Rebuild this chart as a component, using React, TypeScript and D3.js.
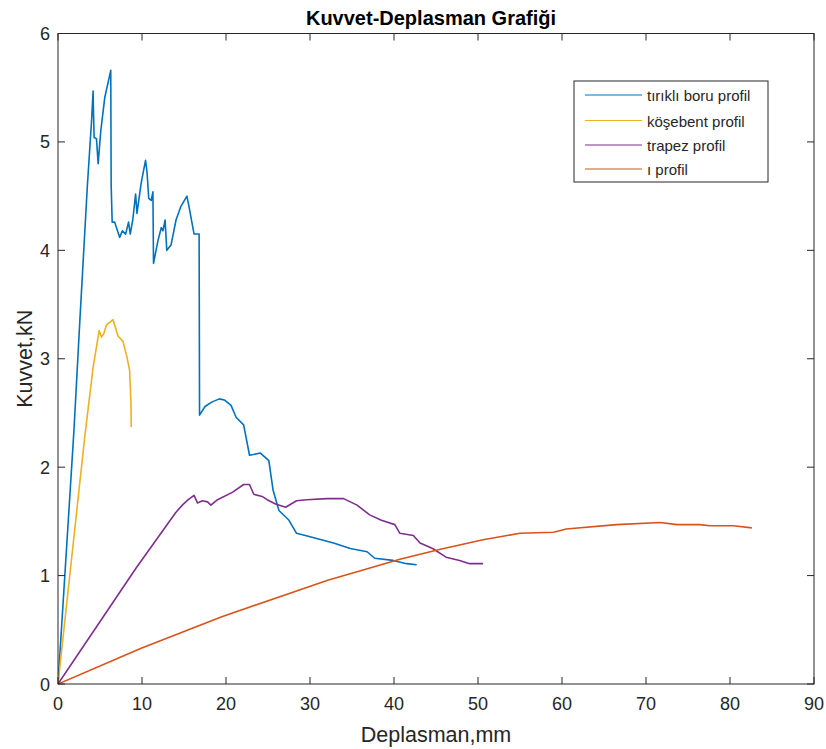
import React from "react";
import * as d3 from "d3";

const W = 826;
const H = 749;

const xTicks = [0, 10, 20, 30, 40, 50, 60, 70, 80, 90];
const yTicks = [0, 1, 2, 3, 4, 5, 6];

const titleText = "Kuvvet-Deplasman Grafiği";
const xLabel = "Deplasman,mm";
const yLabel = "Kuvvet,kN";

const seriesNames = ["tırıklı boru profil", "köşebent profil", "trapez profil", "ı profil"];
const seriesColors = ["#0072BD", "#EDB120", "#7E2F8E", "#D95319"];

const boruX = [0, 1.9, 2.6, 3.5, 4.0, 4.18, 4.22, 4.3, 4.58, 4.78, 5.09, 5.57, 6.28, 6.33, 6.45, 6.75, 7.34, 7.66, 8.05, 8.4, 8.6, 8.9, 9.24, 9.4, 9.9, 10.42, 10.6, 10.8, 11.1, 11.3, 11.37, 11.9, 12.3, 12.5, 12.75, 12.95, 13.46, 14.05, 14.6, 15.35, 15.6, 16.2, 16.8, 16.85, 17.5, 18.3, 19.2, 19.8, 20.6, 21.2, 22.1, 22.8, 24.1, 25.1, 25.6, 26.3, 27.5, 28.4, 29.9, 32.8, 34.8, 36.8, 37.7, 39.9, 41.5, 42.7];
const boruY = [0, 2.34, 3.35, 4.6, 5.2, 5.47, 5.29, 5.04, 5.03, 4.8, 5.1, 5.41, 5.66, 4.6, 4.26, 4.26, 4.12, 4.18, 4.15, 4.26, 4.15, 4.28, 4.52, 4.34, 4.62, 4.83, 4.72, 4.48, 4.46, 4.54, 3.88, 4.09, 4.21, 4.18, 4.28, 4.0, 4.05, 4.28, 4.4, 4.5, 4.4, 4.15, 4.15, 2.48, 2.56, 2.6, 2.63, 2.62, 2.57, 2.46, 2.39, 2.11, 2.13, 2.06, 1.79, 1.6, 1.51, 1.39, 1.36, 1.3, 1.25, 1.22, 1.16, 1.14, 1.11, 1.1];

const kosebentX = [0, 3.2, 4.18, 4.9, 5.17, 5.45, 5.76, 6.55, 7.14, 7.73, 8.2, 8.53, 8.68, 8.72];
const kosebentY = [0, 2.29, 2.92, 3.26, 3.2, 3.23, 3.31, 3.36, 3.21, 3.16, 3.02, 2.89, 2.6, 2.37];

const trapezX = [0, 9.3, 14, 14.8, 15.5, 16.2, 16.6, 17.2, 17.8, 18.2, 19.0, 20.8, 22.1, 22.8, 23.3, 24.3, 24.9, 25.9, 27.1, 28.4, 29.6, 32.0, 34.0, 35.6, 37.1, 38.5, 40.1, 40.7, 42.3, 43.1, 44.6, 46.2, 47.8, 49.0, 50.6];
const trapezY = [0, 1.07, 1.58, 1.65, 1.7, 1.74, 1.67, 1.69, 1.68, 1.65, 1.7, 1.77, 1.84, 1.84, 1.75, 1.73, 1.7, 1.66, 1.63, 1.69, 1.7, 1.71, 1.71, 1.65, 1.56, 1.51, 1.47, 1.39, 1.37, 1.3, 1.25, 1.17, 1.14, 1.11, 1.11];

const iX = [0, 9.9, 19.5, 32.2, 35.4, 40.7, 45.4, 50.6, 55.0, 59.0, 60.5, 66.5, 71.7, 73.7, 76.4, 77.6, 80.4, 82.6];
const iY = [0, 0.33, 0.62, 0.96, 1.03, 1.15, 1.24, 1.33, 1.39, 1.4, 1.43, 1.47, 1.49, 1.47, 1.47, 1.46, 1.46, 1.44];

const seriesX = [boruX, kosebentX, trapezX, iX];
const seriesY = [boruY, kosebentY, trapezY, iY];

const PL = 58, PR = 814, PT = 33.5, PB = 684;
const FONT = "'Liberation Sans', Arial, Helvetica, sans-serif";
const AX = "#262626";

export default function App() {
  const x = d3.scaleLinear().domain([0, 90]).range([PL, PR]);
  const y = d3.scaleLinear().domain([0, 6]).range([PB, PT]);
  const line = d3
    .line<[number, number]>()
    .x((d) => x(d[0]))
    .y((d) => y(d[1]));

  const tl = 7;
  const legX = 574, legY = 81, legW = 194, legH = 101;
  const rowY = [96, 121.5, 146, 170];

  return (
    <svg
      width={W}
      height={H}
      style={{ position: "absolute", left: 0, top: 0, background: "#fff" }}
      fontFamily={FONT}
    >
      <rect x={0} y={0} width={W} height={H} fill="#fff" />
      <defs>
        <clipPath id="plotclip">
          <rect x={PL} y={PT} width={PR - PL} height={PB - PT} />
        </clipPath>
      </defs>

      {/* data lines */}
      <g clipPath="url(#plotclip)">
        {seriesX.map((xs, i) => (
          <path
            key={i}
            d={line(xs.map((v, j) => [v, seriesY[i][j]] as [number, number])) || ""}
            fill="none"
            stroke={seriesColors[i]}
            strokeWidth={1.6}
            strokeLinejoin="round"
          />
        ))}
      </g>

      {/* axes box */}
      <rect x={PL} y={PT} width={PR - PL} height={PB - PT} fill="none" stroke={AX} strokeWidth={1} />
      {xTicks.map((t) => (
        <g key={"xt" + t}>
          <line x1={x(t)} x2={x(t)} y1={PB} y2={PB - tl} stroke={AX} />
          <line x1={x(t)} x2={x(t)} y1={PT} y2={PT + tl} stroke={AX} />
          <text x={x(t)} y={710} textAnchor="middle" fontSize={18} fill={AX}>
            {t}
          </text>
        </g>
      ))}
      {yTicks.map((t) => (
        <g key={"yt" + t}>
          <line x1={PL} x2={PL + tl} y1={y(t)} y2={y(t)} stroke={AX} />
          <line x1={PR} x2={PR - tl} y1={y(t)} y2={y(t)} stroke={AX} />
          <text x={50} y={y(t) + 6.5} textAnchor="end" fontSize={18} fill={AX}>
            {t}
          </text>
        </g>
      ))}

      {/* labels */}
      <text x={436} y={742} textAnchor="middle" fontSize={21.5} fill={AX}>
        {xLabel}
      </text>
      <text
        transform={`translate(32,${(PT + PB) / 2}) rotate(-90)`}
        textAnchor="middle"
        fontSize={21.5}
        fill={AX}
      >
        {yLabel}
      </text>
      <text x={431} y={25} textAnchor="middle" fontSize={20} fontWeight="bold" fill="#000">
        {titleText}
      </text>

      {/* legend */}
      <rect x={legX} y={legY} width={legW} height={legH} fill="#fff" stroke={AX} strokeWidth={1} />
      {seriesNames.map((n, i) => (
        <g key={"lg" + i}>
          <line x1={585} x2={642} y1={rowY[i] - 1} y2={rowY[i] - 1} stroke={seriesColors[i]} strokeWidth={1.2} />
          <text x={647} y={rowY[i] + 5} fontSize={15} fill={AX}>
            {n}
          </text>
        </g>
      ))}
    </svg>
  );
}
